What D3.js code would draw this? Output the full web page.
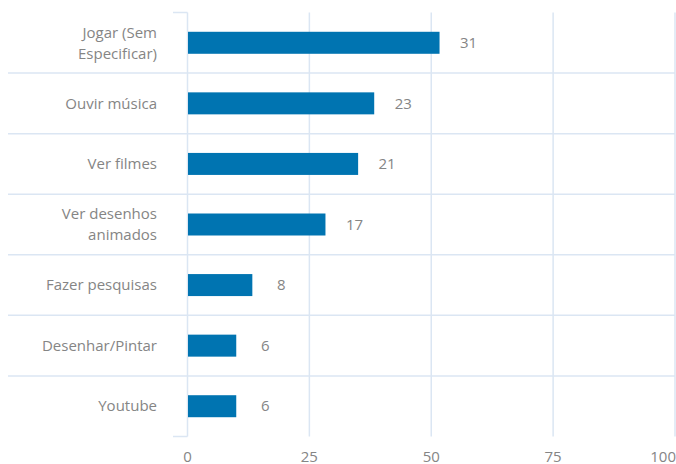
<!DOCTYPE html>
<html><head><meta charset="utf-8">
<script src="https://cdn.jsdelivr.net/npm/d3@7"></script>
<style>body{margin:0;background:#fff}svg{display:block}</style>
</head><body>
<script>
const categories = [["Jogar (Sem","Especificar)"],["Ouvir música"],["Ver filmes"],["Ver desenhos","animados"],["Fazer pesquisas"],["Desenhar/Pintar"],["Youtube"]];
const counts = [31, 23, 21, 17, 8, 6, 6];
const percents = [51.7, 38.3, 35.0, 28.3, 13.3, 10.0, 10.0];
const xTicks = [0, 25, 50, 75, 100];

const W = 676, H = 464;
const m = {left: 187.5, right: 675, top: 12.5, bottom: 436.5};
const svg = d3.select("body").append("svg").attr("width", W).attr("height", H)
  .style("font-family", "'Open Sans', sans-serif");
const x = d3.scaleLinear().domain([0, 100]).range([m.left, m.right]);
const y = d3.scaleBand().domain(d3.range(categories.length)).range([m.top, m.bottom]).paddingInner(0).paddingOuter(0);
const grid = "#dbe6f3";
const txt = "#858585";
const fs = 15;

// vertical gridlines
svg.append("g").selectAll("line").data(xTicks).join("line")
  .attr("x1", d => x(d)).attr("x2", d => x(d))
  .attr("y1", m.top).attr("y2", m.bottom)
  .attr("stroke", grid).attr("stroke-width", 1.5);
// horizontal separators
const bounds = d3.range(1, categories.length).map(i => y(i));
svg.append("g").selectAll("line").data(bounds).join("line")
  .attr("x1", 8).attr("x2", m.right).attr("y1", d => d).attr("y2", d => d)
  .attr("stroke", grid).attr("stroke-width", 1.5);
// top and bottom short ticks
[m.top, m.bottom].forEach(v => svg.append("line").attr("x1", 173).attr("x2", m.left)
  .attr("y1", v).attr("y2", v).attr("stroke", grid).attr("stroke-width", 1.5));

// bars
const bh = 22;
svg.append("g").selectAll("rect").data(percents).join("rect")
  .attr("x", x(0) + 0.5).attr("y", (d, i) => y(i) + y.bandwidth() / 2 - bh / 2)
  .attr("width", d => x(d) - x(0) - 0.5).attr("height", bh).attr("fill", "#0074b1");

// value labels
svg.append("g").selectAll("text").data(counts).join("text")
  .attr("x", (d, i) => x(percents[i]) + 29).attr("y", (d, i) => y(i) + y.bandwidth() / 2)
  .attr("dy", "0.35em").attr("text-anchor", "middle").attr("font-size", fs).attr("fill", txt)
  .text(d => d);

// category labels
const cl = svg.append("g").selectAll("text").data(categories).join("text")
  .attr("text-anchor", "end").attr("font-size", fs).attr("fill", txt)
  .attr("transform", (d, i) => `translate(157,${y(i) + y.bandwidth() / 2})`);
cl.selectAll("tspan").data(d => d.map((t, j) => ({t, j, n: d.length}))).join("tspan")
  .attr("x", 0).attr("y", d => (d.j - (d.n - 1) / 2) * 21).attr("dy", "0.35em").text(d => d.t);

// x tick labels
svg.append("g").selectAll("text").data(xTicks).join("text")
  .attr("x", (d, i) => i === xTicks.length - 1 ? W : x(d)).attr("y", 461.5)
  .attr("text-anchor", (d, i) => i === xTicks.length - 1 ? "end" : "middle")
  .attr("font-size", fs).attr("fill", txt).text(d => d);
</script>
</body></html>
